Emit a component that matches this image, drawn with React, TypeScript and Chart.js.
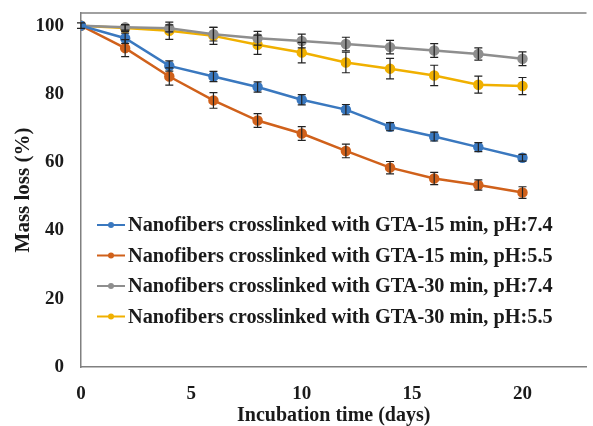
import { useEffect, useRef } from "react";
import { Chart, registerables } from "chart.js";
Chart.register(...registerables);

const days = [0, 2, 4, 6, 8, 10, 12, 14, 16, 18, 20];
const seriesNames = [
  "Nanofibers crosslinked with GTA-15 min, pH:7.4",
  "Nanofibers crosslinked with GTA-15 min, pH:5.5",
  "Nanofibers crosslinked with GTA-30 min, pH:7.4",
  "Nanofibers crosslinked with GTA-30 min, pH:5.5",
];
const gta15ph74 = [100, 96.3, 88.2, 85.1, 82.0, 78.3, 75.4, 70.4, 67.5, 64.4, 61.3];
const gta15ph55 = [100, 93.4, 85.1, 78.1, 72.2, 68.4, 63.3, 58.4, 55.2, 53.3, 51.1];
const gta30ph74 = [100, 99.5, 99.2, 97.5, 96.3, 95.5, 94.6, 93.7, 92.7, 91.7, 90.3];
const gta30ph55 = [100, 99.3, 98.5, 97.0, 94.4, 92.1, 89.2, 87.4, 85.4, 82.7, 82.3];
const err15ph74 = [0.8, 1.5, 1.5, 1.5, 1.5, 1.5, 1.5, 1.2, 1.3, 1.3, 1.0];
const err15ph55 = [0, 2.5, 2.5, 2.3, 2.0, 2.0, 2.0, 1.8, 1.8, 1.5, 1.7];
const err30ph74 = [0, 0.8, 1.0, 2.0, 2.0, 2.0, 2.0, 2.0, 2.0, 1.8, 2.0];
const err30ph55 = [0, 1.0, 2.5, 2.5, 2.8, 3.0, 3.0, 3.0, 3.0, 2.5, 2.5];
const xTicks = [0, 5, 10, 15, 20];
const yTicks = [0, 20, 40, 60, 80, 100];

const colors = ["#3A78BF", "#D0611B", "#8E8E8E", "#F0B000"];
const values = [gta15ph74, gta15ph55, gta30ph74, gta30ph55];
const errors = [err15ph74, err15ph55, err30ph74, err30ph55];

const FONT = "'Liberation Serif', 'Times New Roman', serif";

const errorBarPlugin = {
  id: "errorBars",
  afterDatasetsDraw(chart: any) {
    const ctx = chart.ctx;
    const yScale = chart.scales.y;
    ctx.save();
    ctx.strokeStyle = "#222";
    ctx.lineWidth = 1.2;
    chart.data.datasets.forEach((ds: any, di: number) => {
      const meta = chart.getDatasetMeta(di);
      meta.data.forEach((pt: any, i: number) => {
        const e = errors[di][i];
        if (!e) return;
        const v = values[di][i];
        const x = pt.x;
        const y1 = yScale.getPixelForValue(v + e);
        const y2 = yScale.getPixelForValue(v - e);
        ctx.beginPath();
        ctx.moveTo(x, y1);
        ctx.lineTo(x, y2);
        ctx.moveTo(x - 4, y1);
        ctx.lineTo(x + 4, y1);
        ctx.moveTo(x - 4, y2);
        ctx.lineTo(x + 4, y2);
        ctx.stroke();
      });
    });
    ctx.restore();
  },
};

const framePlugin = {
  id: "frame",
  afterDraw(chart: any) {
    const { ctx, chartArea } = chart;
    ctx.save();
    ctx.strokeStyle = "#808080";
    ctx.lineWidth = 1.5;
    ctx.beginPath();
    ctx.moveTo(chartArea.left, chartArea.top);
    ctx.lineTo(chartArea.right, chartArea.top);
    ctx.stroke();
    ctx.restore();
  },
};

const legendPlugin = {
  id: "customLegend",
  afterDraw(chart: any) {
    const ctx = chart.ctx;
    ctx.save();
    ctx.font = `bold 20.3px ${FONT}`;
    ctx.textBaseline = "middle";
    ctx.textAlign = "left";
    chart.data.datasets.forEach((ds: any, i: number) => {
      const y = 225 + i * 30.5;
      ctx.strokeStyle = ds.borderColor;
      ctx.lineWidth = 2;
      ctx.beginPath();
      ctx.moveTo(97, y);
      ctx.lineTo(125, y);
      ctx.stroke();
      ctx.fillStyle = ds.borderColor;
      ctx.beginPath();
      ctx.arc(111, y, 3, 0, Math.PI * 2);
      ctx.fill();
      ctx.fillStyle = "#1a1a1a";
      ctx.fillText(ds.label, 128, y + 1);
    });
    ctx.restore();
  },
};

export default function App() {
  const ref = useRef<HTMLCanvasElement>(null);
  useEffect(() => {
    document.body.style.margin = "0";
    const chart = new Chart(ref.current!, {
      type: "line",
      data: {
        datasets: values.map((vals, i) => ({
          label: seriesNames[i],
          data: days.map((d, j) => ({ x: d, y: vals[j] })),
          borderColor: colors[i],
          backgroundColor: colors[i],
          pointBackgroundColor: colors[i],
          pointBorderColor: colors[i],
          pointRadius: 4,
          borderWidth: 2.5,
          tension: 0,
        })),
      },
      options: {
        animation: false,
        responsive: false,
        maintainAspectRatio: false,
        layout: { padding: { top: 13, right: 0, left: 0, bottom: 0 } },
        plugins: { legend: { display: false }, tooltip: { enabled: false } },
        scales: {
          x: {
            type: "linear",
            min: 0,
            max: 22.9,
            afterBuildTicks: (s: any) => {
              s.ticks = xTicks.map((v) => ({ value: v }));
            },
            afterFit: (s: any) => {
              s.height = 59;
              s.paddingLeft = 0;
              s.paddingRight = 0;
            },
            grid: { display: false, drawTicks: false },
            border: { display: true, color: "#808080", width: 1.5 },
            ticks: {
              padding: 16,
              color: "#1a1a1a",
              font: { family: FONT, size: 19, weight: "bold" },
            },
            title: {
              display: true,
              text: "Incubation time (days)",
              color: "#1a1a1a",
              font: { family: FONT, size: 20, weight: "bold", lineHeight: 1 },
              padding: { top: 0, bottom: 0 },
            },
          },
          y: {
            min: 0,
            max: 103.7,
            afterBuildTicks: (s: any) => {
              s.ticks = yTicks.map((v) => ({ value: v }));
            },
            afterFit: (s: any) => {
              s.width = 81;
              s.paddingTop = 0;
              s.paddingBottom = 0;
            },
            grid: { display: false, drawTicks: false },
            border: { display: true, color: "#808080", width: 1.5 },
            ticks: {
              padding: 17,
              color: "#1a1a1a",
              font: { family: FONT, size: 19, weight: "bold" },
            },
            title: {
              display: true,
              text: "Mass loss (%)",
              color: "#1a1a1a",
              font: { family: FONT, size: 21, weight: "bold" },
              padding: { top: 11, bottom: 0 },
            },
          },
        },
      },
      plugins: [errorBarPlugin, framePlugin, legendPlugin],
    } as any);
    return () => chart.destroy();
  }, []);
  return (
    <div style={{ width: 593, height: 426 }}>
      <canvas ref={ref} width={593} height={426} style={{ display: "block" }} />
    </div>
  );
}
